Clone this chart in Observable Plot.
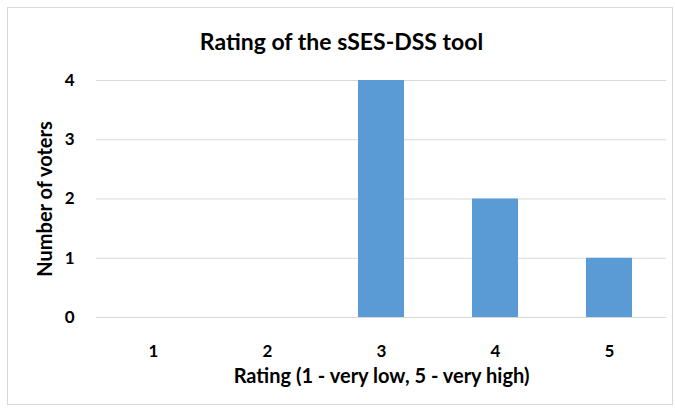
<!DOCTYPE html>
<html>
<head>
<meta charset="utf-8">
<script src="https://cdn.jsdelivr.net/npm/d3@7"></script>
<script src="https://cdn.jsdelivr.net/npm/@observablehq/plot@0.6"></script>
<style>
  html, body { margin: 0; padding: 0; background: #fff; }
  #wrap { position: relative; width: 675px; height: 410px; font-family: Lato, "Open Sans", sans-serif; }
  #frame { position: absolute; left: 7px; top: 7px; width: 664px; height: 396px; border: 1px solid #d9d9d9; }
  #title { position: absolute; left: 0; width: 683px; top: 27px; text-align: center; font-size: 23px; font-weight: bold; color: #000; }
  #chart { position: absolute; left: 0; top: 0; }
</style>
</head>
<body>
<div id="wrap">
  <div id="frame"></div>
  <div id="chart"></div>
  <div id="title">Rating of the sSES-DSS tool</div>
</div>
<script>
const ratings = ["1", "2", "3", "4", "5"];
const voters = [0, 0, 4, 2, 1];
const yTicks = [0, 1, 2, 3, 4];
const xLabel = "Rating (1 - very low, 5 - very high)";
const yLabel = "Number of voters";

const data = ratings.map((r, i) => ({rating: r, count: voters[i]}));

const chart = Plot.plot({
  width: 675,
  height: 410,
  marginLeft: 96,
  marginRight: 9,
  marginTop: 80,
  marginBottom: 93,
  style: {fontFamily: "Lato, 'Open Sans', sans-serif", background: "transparent", overflow: "visible"},
  x: {domain: ratings, paddingInner: 0.6, paddingOuter: 0.3, label: null},
  y: {domain: [0, 4], label: null},
  marks: [
    Plot.gridY(yTicks, {stroke: "#d9d9d9", strokeOpacity: 1, strokeWidth: 1}),
    Plot.barY(data, {x: "rating", y: "count", fill: "#5b9bd5"}),
    Plot.axisY(yTicks, {tickSize: 0, tickPadding: 22, tickFormat: "d", fontSize: 17, fontWeight: "bold", fill: "#000", label: null}),
    Plot.axisX(ratings, {tickSize: 0, tickPadding: 27, fontSize: 17, fontWeight: "bold", fill: "#000", label: null}),
    Plot.text([xLabel], {frameAnchor: "bottom", dy: 65, fontSize: 20, fontWeight: "bold", fill: "#000"}),
    Plot.text([yLabel], {frameAnchor: "left", textAnchor: "middle", dx: -51, rotate: -90, fontSize: 20, fontWeight: "bold", fill: "#000"})
  ]
});
document.getElementById("chart").appendChild(chart);
</script>
</body>
</html>
